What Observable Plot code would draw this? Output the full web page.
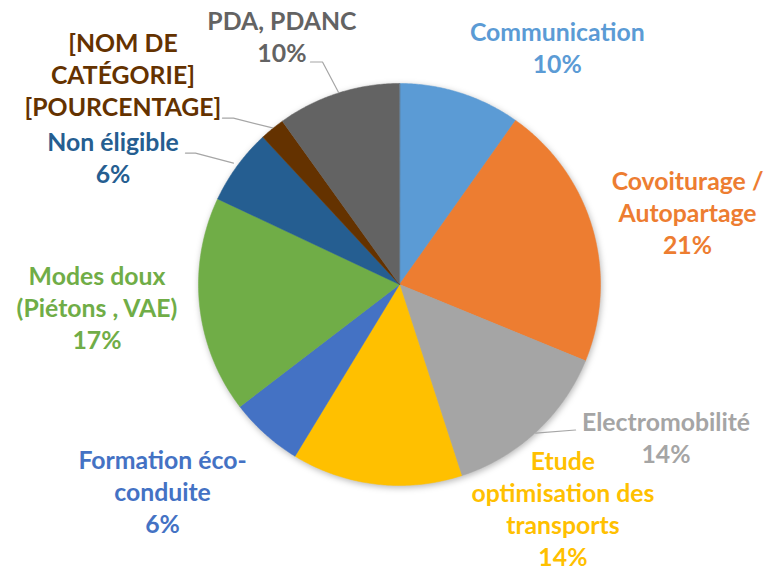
<!DOCTYPE html>
<html>
<head>
<meta charset="utf-8">
<script src="https://cdn.jsdelivr.net/npm/d3@7"></script>
<script src="https://cdn.jsdelivr.net/npm/@observablehq/plot@0.6"></script>
<style>
  body { margin: 0; background: #fff; }
  #chart svg g[aria-label="geo"] { filter: drop-shadow(1px 2px 3px rgba(0,0,0,0.28)); }
</style>
</head>
<body>
<div id="chart"></div>
<script>
// ---- data (clockwise from 12 o'clock) ----
const categories = [
  "Communication",
  "Covoiturage / Autopartage",
  "Electromobilité",
  "Etude optimisation des transports",
  "Formation éco-conduite",
  "Modes doux (Piétons , VAE)",
  "Non éligible",
  "[NOM DE CATÉGORIE]",
  "PDA, PDANC"
];
const values = [9.8, 21.4, 13.8, 13.7, 5.9, 17.4, 6.1, 2.0, 9.9];
// label lines as displayed
const labelNames = [
  "Communication",
  "Covoiturage /\nAutopartage",
  "Electromobilité",
  "Etude\noptimisation des\ntransports",
  "Formation éco-\nconduite",
  "Modes doux\n(Piétons , VAE)",
  "Non éligible",
  "[NOM DE\nCATÉGORIE]",
  "PDA, PDANC"
];
const percentPlaceholder = [null, null, null, null, null, null, null, "[POURCENTAGE]", null];
const colors = ["#5B9BD5", "#ED7D31", "#A5A5A5", "#FFC000", "#4472C4", "#70AD47", "#255E91", "#643200", "#636363"];

// ---- layout (unit-circle coordinates, y up) ----
const labelPos = [
  [0.785, 1.167], [1.433, 0.348], [1.326, -0.771], [0.813, -1.127], [-1.179, -1.040],
  [-1.505, -0.124], [-1.425, 0.619], [-1.376, 1.032], [-0.585, 1.224]
];
const leaders = [
  {id: "PDA", pts: [[-0.443, 1.107], [-0.383, 1.107], [-0.303, 0.955]]},
  {id: "NOM", pts: [[-0.881, 0.828], [-0.826, 0.828], [-0.632, 0.779]]},
  {id: "NON", pts: [[-1.065, 0.654], [-1.015, 0.654], [-0.826, 0.604]]},
  {id: "ELEC", pts: [[0.876, -0.724], [0.677, -0.739]]}
];

// ---- build slices ----
const total = d3.sum(values);
const arcs = d3.pie().sort(null)(values);
const toXY = (a, r) => [r * Math.sin(a), r * Math.cos(a)];
const slices = arcs.map((a, i) => {
  const n = Math.max(2, Math.ceil((a.endAngle - a.startAngle) / (Math.PI / 360)));
  const ring = [[0, 0]];
  for (let k = 0; k <= n; k++) ring.push(toXY(a.startAngle + (a.endAngle - a.startAngle) * k / n, 1));
  ring.push([0, 0]);
  return {type: "Feature", properties: {category: categories[i]}, geometry: {type: "Polygon", coordinates: [ring]}};
});
const domain = {type: "FeatureCollection", features: slices};

const labelData = categories.map((c, i) => ({
  category: c,
  x: labelPos[i][0],
  y: labelPos[i][1],
  text: labelNames[i] + "\n" + (percentPlaceholder[i] ?? Math.round(values[i] / total * 100) + "%")
}));
const leaderData = leaders.flatMap(l => l.pts.map(p => ({id: l.id, x: p[0], y: p[1]})));

const chart = Plot.plot({
  width: 764,
  height: 570,
  marginLeft: 198,
  marginRight: 164,
  marginTop: 83,
  marginBottom: 85,
  projection: {type: "reflect-y", domain, clip: false},
  color: {domain: categories, range: colors},
  style: {fontFamily: "Lato, sans-serif", background: "#fff"},
  marks: [
    Plot.geo(slices, {fill: d => d.properties.category, stroke: d => d.properties.category, strokeWidth: 0.5}),
    Plot.line(leaderData, {x: "x", y: "y", z: "id", stroke: "#A6A6A6", strokeWidth: 1.2}),
    Plot.text(labelData, {
      x: "x", y: "y", text: "text", fill: "category",
      fontSize: 24.8, fontWeight: "bold", fontFamily: "Lato, sans-serif",
      lineHeight: 1.29, lineAnchor: "middle", textAnchor: "middle", dy: -3
    })
  ]
});
document.getElementById("chart").appendChild(chart);
</script>
</body>
</html>
